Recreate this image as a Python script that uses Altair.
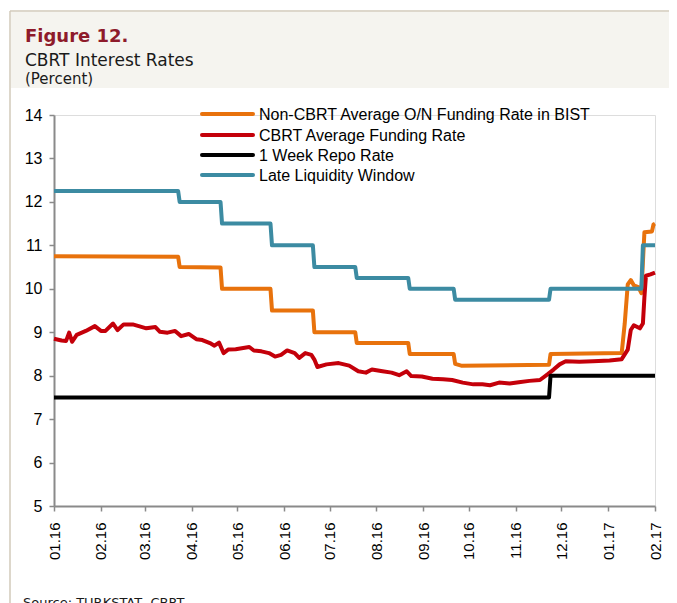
import altair as alt
import pandas as pd

# ---------------- data ----------------
series_names = [
    "Non-CBRT Average O/N Funding Rate in BIST",
    "CBRT Average Funding Rate",
    "1 Week Repo Rate",
    "Late Liquidity Window",
]
series_colors = ["#E8720C", "#C4000A", "#000000", "#3C8BA2"]

orange_dates = ["2016-01-01", "2016-03-23", "2016-03-24", "2016-04-20", "2016-04-21",
                "2016-05-23", "2016-05-24", "2016-06-20", "2016-06-21", "2016-07-18",
                "2016-07-19", "2016-08-22", "2016-08-23", "2016-09-21", "2016-09-22",
                "2016-09-26", "2016-11-23", "2016-11-24", "2017-01-10", "2017-01-12",
                "2017-01-14", "2017-01-16", "2017-01-18", "2017-01-21", "2017-01-23",
                "2017-01-24", "2017-01-25", "2017-01-30", "2017-01-31", "2017-02-01"]
orange_values = [10.75, 10.74, 10.50, 10.49, 10.00,
                 10.00, 9.50, 9.50, 9.00, 9.00,
                 8.75, 8.75, 8.50, 8.50, 8.27,
                 8.23, 8.25, 8.50, 8.52, 9.20,
                 10.10, 10.20, 10.08, 10.04, 9.90,
                 10.60, 11.30, 11.32, 11.48, 11.50]

red_dates = ["2016-01-01", "2016-01-06", "2016-01-09", "2016-01-11", "2016-01-13",
             "2016-01-16", "2016-01-22", "2016-01-28", "2016-02-01", "2016-02-04",
             "2016-02-09", "2016-02-12", "2016-02-16", "2016-02-22", "2016-02-26",
             "2016-03-02", "2016-03-08", "2016-03-11", "2016-03-16", "2016-03-21",
             "2016-03-25", "2016-03-30", "2016-04-04", "2016-04-08", "2016-04-13",
             "2016-04-16", "2016-04-19", "2016-04-22", "2016-04-25", "2016-04-30",
             "2016-05-09", "2016-05-12", "2016-05-17", "2016-05-22", "2016-05-26",
             "2016-05-30", "2016-06-03", "2016-06-08", "2016-06-11", "2016-06-15",
             "2016-06-19", "2016-06-21", "2016-06-23", "2016-06-29", "2016-07-07",
             "2016-07-14", "2016-07-20", "2016-07-25", "2016-07-29", "2016-08-05",
             "2016-08-11", "2016-08-16", "2016-08-21", "2016-08-24", "2016-08-31",
             "2016-09-07", "2016-09-14", "2016-09-20", "2016-09-27", "2016-10-04",
             "2016-10-10", "2016-10-15", "2016-10-21", "2016-10-28", "2016-11-03",
             "2016-11-10", "2016-11-17", "2016-11-22", "2016-11-26", "2016-11-30",
             "2016-12-04", "2016-12-13", "2016-12-22", "2017-01-02", "2017-01-10",
             "2017-01-14", "2017-01-16", "2017-01-18", "2017-01-22", "2017-01-24",
             "2017-01-25", "2017-01-26", "2017-01-29", "2017-02-01"]
red_values = [8.85, 8.81, 8.80, 8.99, 8.78,
              8.94, 9.03, 9.14, 9.03, 9.03,
              9.20, 9.05, 9.18, 9.18, 9.14,
              9.09, 9.12, 9.01, 8.99, 9.03,
              8.91, 8.96, 8.84, 8.82, 8.75,
              8.69, 8.76, 8.52, 8.60, 8.61,
              8.66, 8.58, 8.56, 8.52, 8.44,
              8.48, 8.58, 8.52, 8.41, 8.52,
              8.48, 8.37, 8.20, 8.26, 8.29,
              8.23, 8.10, 8.07, 8.14, 8.10,
              8.07, 8.01, 8.10, 7.99, 7.98,
              7.93, 7.92, 7.90, 7.84, 7.80,
              7.80, 7.78, 7.84, 7.82, 7.85,
              7.88, 7.90, 8.03, 8.14, 8.26,
              8.33, 8.32, 8.33, 8.35, 8.38,
              8.60, 9.05, 9.16, 9.09, 9.20,
              9.80, 10.30, 10.33, 10.37]

repo_dates = ["2016-01-01", "2016-11-23", "2016-11-24", "2017-02-01"]
repo_values = [7.50, 7.50, 8.00, 8.00]

llw_dates = ["2016-01-01", "2016-03-23", "2016-03-24", "2016-04-20", "2016-04-21",
             "2016-05-23", "2016-05-24", "2016-06-20", "2016-06-21", "2016-07-18",
             "2016-07-19", "2016-08-22", "2016-08-23", "2016-09-21", "2016-09-22",
             "2016-11-23", "2016-11-24", "2017-01-23", "2017-01-24", "2017-02-01"]
llw_values = [12.25, 12.25, 12.00, 12.00, 11.50,
              11.50, 11.00, 11.00, 10.50, 10.50,
              10.25, 10.25, 10.00, 10.00, 9.75,
              9.75, 10.00, 10.00, 11.00, 11.00]

month_ticks = [(2016, m) for m in range(1, 13)] + [(2017, 1), (2017, 2)]
y_ticks = [5, 6, 7, 8, 9, 10, 11, 12, 13, 14]

title_text = "Figure 12."
subtitle_text = "CBRT Interest Rates"
unit_text = "(Percent)"
source_text = "Source: TURKSTAT, CBRT"

# ---------------- table ----------------
rows = []
for name, dates, values in zip(series_names,
                               [orange_dates, red_dates, repo_dates, llw_dates],
                               [orange_values, red_values, repo_values, llw_values]):
    for d, v in zip(dates, values):
        rows.append({"date": d + "T00:00:00", "value": v, "series": name})
df = pd.DataFrame(rows)

# ---------------- geometry (plot origin at page 54,115) ----------------
W, H = 601, 391
OX, OY = 54, 115
FONT = "Liberation Sans, Arial, sans-serif"

lines = alt.Chart(df).mark_line(strokeWidth=4, strokeJoin="round").encode(
    x=alt.X("date:T",
            scale=alt.Scale(domain=[alt.DateTime(year=2016, month=1, date=1),
                                    alt.DateTime(year=2017, month=2, date=1)]),
            axis=alt.Axis(values=[alt.DateTime(year=y, month=m, date=1) for y, m in month_ticks],
                          format="%m.%y", labelAngle=270, title=None, grid=False,
                          tickSize=5, tickColor="#8a8a8a", domainColor="#8a8a8a",
                          domainWidth=2, tickWidth=1.5, labelFontSize=15,
                          labelFont=FONT, labelColor="#000000", labelPadding=11,
                          labelOverlap=False)),
    y=alt.Y("value:Q",
            scale=alt.Scale(domain=[5, 14], nice=False, zero=False),
            axis=alt.Axis(values=y_ticks, title=None, grid=False, tickSize=5,
                          tickColor="#8a8a8a", domainColor="#8a8a8a", domainWidth=2,
                          tickWidth=1.5, labelFontSize=16, labelFont=FONT,
                          labelColor="#000000", labelPadding=7)),
    color=alt.Color("series:N",
                    scale=alt.Scale(domain=series_names, range=series_colors),
                    sort=series_names, legend=None),
    detail="series:N",
)

one = alt.Data(values=[{"k": 1}])

# manual legend (line swatch + label per series)
legend_rows_y = [114, 135, 155, 175]
legend_layers = []
for name, col, ry in zip(series_names, series_colors, legend_rows_y):
    legend_layers.append(
        alt.Chart(one).mark_rule(color=col, strokeWidth=4, strokeCap="round").encode(
            x=alt.value(202 - OX), x2=alt.value(253 - OX), y=alt.value(ry - OY)))
    legend_layers.append(
        alt.Chart(alt.Data(values=[{"t": name}])).mark_text(
            align="left", baseline="middle", font=FONT, fontSize=16,
            color="#000000").encode(
            x=alt.value(259 - OX), y=alt.value(ry + 1 - OY), text="t:N"))

header = alt.Chart(one).mark_rect(color="#F5F4EF").encode(
    x=alt.value(11 - OX), x2=alt.value(700 - OX),
    y=alt.value(12 - OY), y2=alt.value(88 - OY))
top_border = alt.Chart(one).mark_rule(color="#D2CABA", strokeWidth=1.5).encode(
    x=alt.value(10 - OX), x2=alt.value(700 - OX), y=alt.value(11 - OY))
left_border = alt.Chart(one).mark_rule(color="#D2CABA", strokeWidth=1.5).encode(
    x=alt.value(10 - OX), y=alt.value(11 - OY), y2=alt.value(700 - OY))

t1 = alt.Chart(alt.Data(values=[{"t": title_text}])).mark_text(
    align="left", baseline="alphabetic", font="DejaVu Sans", fontSize=18,
    fontWeight="bold", color="#8E1B2B").encode(
    x=alt.value(25 - OX), y=alt.value(42 - OY), text="t:N")
t2 = alt.Chart(alt.Data(values=[{"t": subtitle_text}])).mark_text(
    align="left", baseline="alphabetic", font="DejaVu Sans", fontSize=17,
    color="#1A1A1A").encode(
    x=alt.value(25 - OX), y=alt.value(65.5 - OY), text="t:N")
t3 = alt.Chart(alt.Data(values=[{"t": unit_text}])).mark_text(
    align="left", baseline="alphabetic", font="DejaVu Sans", fontSize=15,
    color="#1A1A1A").encode(
    x=alt.value(25 - OX), y=alt.value(84 - OY), text="t:N")
src = alt.Chart(alt.Data(values=[{"t": source_text}])).mark_text(
    align="left", baseline="alphabetic", font="DejaVu Sans", fontSize=13,
    color="#1A1A1A").encode(
    x=alt.value(23 - OX), y=alt.value(607 - OY), text="t:N")

chart = alt.layer(header, top_border, left_border, t1, t2, t3, src, lines,
                  *legend_layers).properties(
    width=W, height=H,
    autosize=alt.AutoSizeParams(type="none"),
    padding={"left": OX - 8, "top": OY - 8, "right": 14, "bottom": 595 - (OY - 8) - H},
).configure_view(stroke=None).configure(background="#FFFFFF")

chart.save("out.html", embed_options={"renderer": "svg", "actions": False})
